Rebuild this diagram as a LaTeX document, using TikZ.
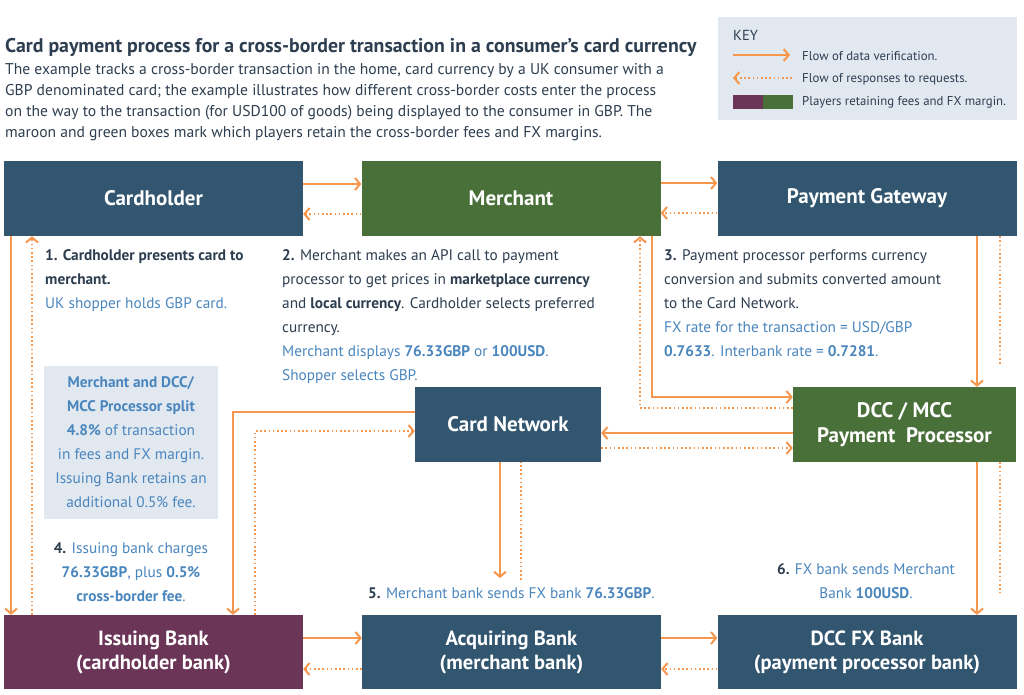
\documentclass[tikz,border=0pt]{standalone}
\usepackage{fontspec}
\setmainfont{PT Sans}
\usetikzlibrary{arrows.meta}
\definecolor{navy}{RGB}{50,86,112}
\definecolor{grn}{RGB}{74,112,58}
\definecolor{mar}{RGB}{107,53,88}
\definecolor{org}{RGB}{247,150,77}
\definecolor{lb}{RGB}{74,134,190}
\definecolor{dk}{RGB}{45,62,80}
\definecolor{keybg}{RGB}{226,232,240}
\begin{document}
\begin{tikzpicture}[x=1pt,y=-1pt,
  player/.style={minimum width=299pt,minimum height=75pt,inner sep=0pt,text=white,
    font=\bfseries\fontsize{21}{24}\selectfont,align=center},
  tip/.style={-{Straight Barb[length=5pt,width=12pt,line width=2pt]}},
  sol/.style={draw=org,line width=2pt,tip},
  dotarr/.style={draw=org,line width=2pt,dash pattern=on 1.6pt off 2.6pt,tip},
  dotline/.style={draw=org,line width=2pt,dash pattern=on 1.6pt off 2.6pt},
  txt/.style={inner sep=0pt,anchor=north west,align=left,
    font=\fontsize{15.3}{24}\selectfont,text=dk},
]
\useasboundingbox[fill=white] (0,0) rectangle (1024,694);

% title and description
\node[anchor=base west,inner sep=0pt,font=\bfseries\fontsize{19.8}{22}\selectfont,text=dk] (title) at (5,52)
  {Card payment process for a cross-border transaction in a consumer’s card currency};
\node[txt,font=\fontsize{15.6}{21}\selectfont] (desc) at (5,63)
  {The example tracks a cross-border transaction in the home, card currency by a UK consumer with a\\
   GBP denominated card; the example illustrates how different cross-border costs enter the process\\
   on the way to the transaction (for USD100 of goods) being displayed to the consumer in GBP. The\\
   maroon and green boxes mark which players retain the cross-border fees and FX margins.};

% key
\node[fill=keybg,minimum width=299pt,minimum height=103pt,inner sep=0pt] (key) at (867.5,68.5) {};
\node[anchor=west,inner sep=0pt,font=\fontsize{14.5}{16}\selectfont,text=dk] (keyt) at (733,35) {KEY};
\coordinate (k1a) at (733,55); \coordinate (k1b) at (790,55);
\coordinate (k2a) at (792,78); \coordinate (k2b) at (733,78);
\draw[sol] (k1a) -- (k1b);
\draw[dotarr] (k2a) -- (k2b);
\fill[mar] (733,95) rectangle (763,109);
\fill[grn] (763,95) rectangle (793,109);
\node[anchor=west,inner sep=0pt,font=\fontsize{12.8}{14}\selectfont,text=dk] (kt1) at (802,56) {Flow of data verification.};
\node[anchor=west,inner sep=0pt,font=\fontsize{12.8}{14}\selectfont,text=dk] (kt2) at (802,79) {Flow of responses to requests.};
\node[anchor=west,inner sep=0pt,font=\fontsize{12.8}{14}\selectfont,text=dk] (kt3) at (802,102) {Players retaining fees and FX margin.};

% players
\node[player,fill=navy] (ch) at (153.5,198.5) {Cardholder};
\node[player,fill=grn] (me) at (511,198.5) {Merchant};
\node[player,fill=navy] (pg) at (867,198.5) {Payment Gateway};
\node[player,fill=navy,minimum width=186pt] (cn) at (508,424.5) {Card Network};
\node[player,fill=grn,minimum width=223pt,font=\bfseries\fontsize{21}{25}\selectfont] (pp) at (904.5,424.5) {DCC / MCC\\Payment\ \ Processor};
\node[player,fill=mar,minimum height=74pt,font=\bfseries\fontsize{20.5}{24}\selectfont] (ib) at (153.5,652) {Issuing Bank\\(cardholder bank)};
\node[player,fill=navy,minimum height=74pt,font=\bfseries\fontsize{20.5}{24}\selectfont] (ab) at (511.5,652) {Acquiring Bank\\(merchant bank)};
\node[player,fill=navy,minimum height=74pt,font=\bfseries\fontsize{20.5}{24}\selectfont] (fx) at (867,652) {DCC FX Bank\\(payment processor bank)};

% step texts
\node[txt] (s1) at (45,249.5)
  {\textbf{1. Cardholder presents card to}\\
   \textbf{merchant.}\\
   \textcolor{lb}{UK shopper holds GBP card.}};
\node[txt] (s2) at (282,249.5)
  {\textbf{2.} Merchant makes an API call to payment\\
   processor to get prices in \textbf{marketplace currency}\\
   and \textbf{local currency}. Cardholder selects preferred\\
   currency.\\
   \textcolor{lb}{Merchant displays \textbf{76.33GBP} or \textbf{100USD}.}\\
   \textcolor{lb}{Shopper selects GBP.}};
\node[txt] (s3) at (664,249.5)
  {\textbf{3.} Payment processor performs currency\\
   conversion and submits converted amount\\
   to the Card Network.\\
   \textcolor{lb}{FX rate for the transaction = USD/GBP}\\
   \textcolor{lb}{\textbf{0.7633}. Interbank rate = \textbf{0.7281}.}};
\node[fill=keybg,minimum width=174pt,minimum height=153pt,inner sep=0pt,align=center,
  font=\fontsize{15.3}{24}\selectfont,text=lb] (fee) at (131,442.5)
  {\textbf{Merchant and DCC/}\\
   \textbf{MCC Processor split}\\
   \textbf{4.8\%} of transaction\\
   in fees and FX margin.\\
   Issuing Bank retains an\\
   additional 0.5\% fee.};
\node[inner sep=0pt,align=center,font=\fontsize{15.3}{24}\selectfont,text=lb] (s4) at (131,572)
  {\textcolor{dk}{\textbf{4.}} Issuing bank charges\\
   \textbf{76.33GBP}, plus \textbf{0.5\%}\\
   \textbf{cross-border fee}.};
\node[anchor=west,inner sep=0pt,font=\fontsize{15.3}{24}\selectfont,text=lb] (s5) at (368,593)
  {\textcolor{dk}{\textbf{5.}} Merchant bank sends FX bank \textbf{76.33GBP}.};
\node[inner sep=0pt,align=center,font=\fontsize{15.3}{24}\selectfont,text=lb] (s6) at (866,581)
  {\textcolor{dk}{\textbf{6.}} FX bank sends Merchant\\
   Bank \textbf{100USD}.};

% connectors: top row
\draw[sol] (ch.east |- 0,184) -- (me.west |- 0,184);
\draw[dotarr] (me.west |- 0,214) -- (ch.east |- 0,214);
\draw[sol] (me.east |- 0,183) -- (pg.west |- 0,183);
\draw[dotarr] (pg.west |- 0,213) -- (me.east |- 0,213);
% gateway -> processor
\coordinate (pgd) at (1000,366);
\draw[sol] (pg.south -| 977,0) -- (pp.north -| 977,0);
\draw[dotline] (pg.south -| 1000,0) -- (pgd);
% merchant <-> processor
\draw[sol] (me.south -| 652,0) |- (pp.west |- 0,397);
\draw[dotarr] (pp.west |- 0,408) -| (me.south -| 640,0);
% processor <-> card network
\draw[sol] (pp.west |- 0,433) -- (cn.east |- 0,433);
\draw[dotarr] (cn.east |- 0,448) -- (pp.west |- 0,448);
% card network <-> issuing bank
\draw[sol] (cn.west |- 0,412) -| (ib.north -| 233,0);
\draw[dotarr] (ib.north -| 255,0) |- (cn.west |- 0,431);
% card network -> step 5
\coordinate (s5a) at (500,578); \coordinate (s5b) at (521,580);
\draw[sol] (cn.south -| 500,0) -- (s5a);
\draw[dotline] (s5b) -- (cn.south -| 521,0);
% processor -> fx bank
\coordinate (ppd) at (1000,593);
\draw[sol] (pp.south -| 977,0) -- (fx.north -| 977,0);
\draw[dotline] (pp.south -| 1000,0) -- (ppd);
% cardholder <-> issuing bank
\draw[sol] (ch.south -| 11,0) -- (ib.north -| 11,0);
\draw[dotarr] (ib.north -| 32,0) -- (ch.south -| 32,0);
% bottom row
\draw[sol] (ib.east |- 0,638) -- (ab.west |- 0,638);
\draw[dotarr] (ab.west |- 0,669) -- (ib.east |- 0,669);
\draw[sol] (ab.east |- 0,638) -- (fx.west |- 0,638);
\draw[dotarr] (fx.west |- 0,669) -- (ab.east |- 0,669);
\end{tikzpicture}
\end{document}
